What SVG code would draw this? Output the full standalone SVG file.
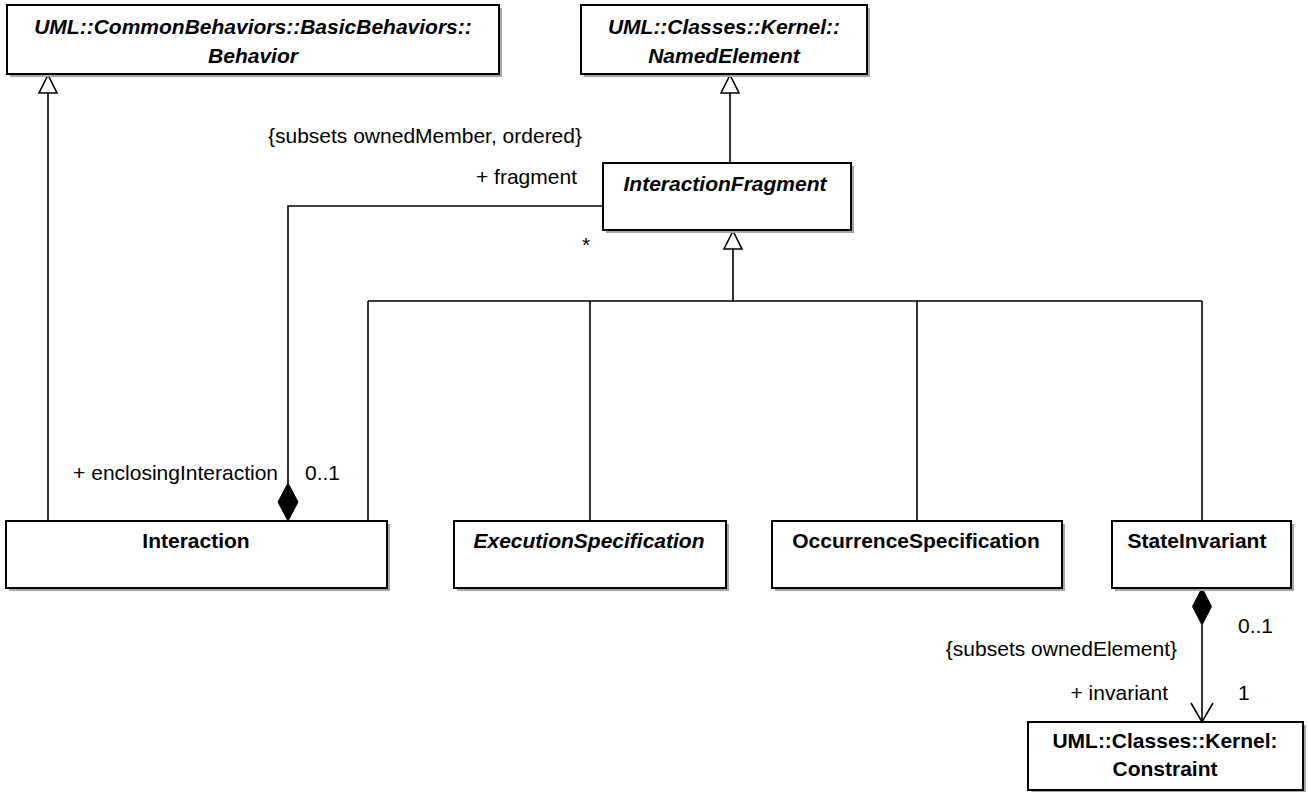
<svg xmlns="http://www.w3.org/2000/svg" width="1308" height="792" viewBox="0 0 1308 792">
<defs>
<style>
.box{fill:#fff;stroke:#000;stroke-width:2}
.shadow{fill:#a6a6a6}
.t{font-family:"Liberation Sans",Arial,sans-serif;font-size:21px;fill:#000}
.n{font-weight:bold;text-anchor:middle}
.i{font-style:italic}
.e{text-anchor:end}
.line{fill:none;stroke:#000;stroke-width:1.6}
.gen{fill:#fff;stroke:#000;stroke-width:1.6}
.dia{fill:#000;stroke:#000;stroke-width:1}
</style>
</defs>
<rect width="1308" height="792" fill="#fff"/>
<g id="connectors">
<path class="line" d="M48,93 V521"/>
<polygon class="gen" points="48,75 39,93 57,93"/>
<path class="line" d="M730,93 V163"/>
<polygon class="gen" points="730,75 721,93 739,93"/>
<path class="line" d="M733,249 V301 M368,301 H1202 M368,301 V521 M590,301 V521 M917,301 V521 M1202,301 V521"/>
<polygon class="gen" points="733,231 724,249 742,249"/>
<path class="line" d="M603,206 H288 V483"/>
<polygon class="dia" points="288,483 298,502 288,521 278,502"/>
<path class="line" d="M1202,625 V722"/>
<polygon class="dia" points="1202,588 1211.5,606.5 1202,625 1192.5,606.5"/>
<path class="line" d="M1191,703 L1202,722 L1213,703"/>
<text class="t e" x="582" y="143">{subsets ownedMember, ordered}</text>
<text class="t e" x="577" y="184">+ fragment</text>
<text class="t" x="582" y="252">*</text>
<text class="t e" x="278" y="480">+ enclosingInteraction</text>
<text class="t" x="305" y="480">0..1</text>
<text class="t" x="1238" y="633">0..1</text>
<text class="t e" x="1177" y="656">{subsets ownedElement}</text>
<text class="t e" x="1168" y="700">+ invariant</text>
<text class="t" x="1238" y="700">1</text>
</g>
<g id="behavior">
<rect class="shadow" x="10" y="8" width="492" height="69"/>
<rect class="box" x="7" y="5" width="492" height="69"/>
<text class="t n i" x="253" y="34">UML::CommonBehaviors::BasicBehaviors::</text>
<text class="t n i" x="253" y="63">Behavior</text>
</g>
<g id="namedElement">
<rect class="shadow" x="584" y="8" width="286" height="69"/>
<rect class="box" x="581" y="5" width="286" height="69"/>
<text class="t n i" x="724" y="34">UML::Classes::Kernel::</text>
<text class="t n i" x="724" y="63">NamedElement</text>
</g>
<g id="interactionFragment">
<rect class="shadow" x="606" y="166" width="248" height="67"/>
<rect class="box" x="603" y="163" width="248" height="67"/>
<text class="t n i" x="725" y="191">InteractionFragment</text>
</g>
<g id="interaction">
<rect class="shadow" x="9" y="524" width="381" height="67"/>
<rect class="box" x="6" y="521" width="381" height="67"/>
<text class="t n" x="196" y="548">Interaction</text>
</g>
<g id="executionSpecification">
<rect class="shadow" x="457" y="524" width="272" height="67"/>
<rect class="box" x="454" y="521" width="272" height="67"/>
<text class="t n i" x="589" y="548">ExecutionSpecification</text>
</g>
<g id="occurrenceSpecification">
<rect class="shadow" x="775" y="524" width="290" height="67"/>
<rect class="box" x="772" y="521" width="290" height="67"/>
<text class="t n" x="916" y="548">OccurrenceSpecification</text>
</g>
<g id="stateInvariant">
<rect class="shadow" x="1115" y="524" width="179" height="67"/>
<rect class="box" x="1112" y="521" width="179" height="67"/>
<text class="t n" x="1197" y="548">StateInvariant</text>
</g>
<g id="constraint">
<rect class="shadow" x="1031" y="725" width="275" height="69"/>
<rect class="box" x="1028" y="722" width="275" height="68"/>
<text class="t n" x="1165" y="748">UML::Classes::Kernel:</text>
<text class="t n" x="1165" y="776">Constraint</text>
</g>
</svg>
